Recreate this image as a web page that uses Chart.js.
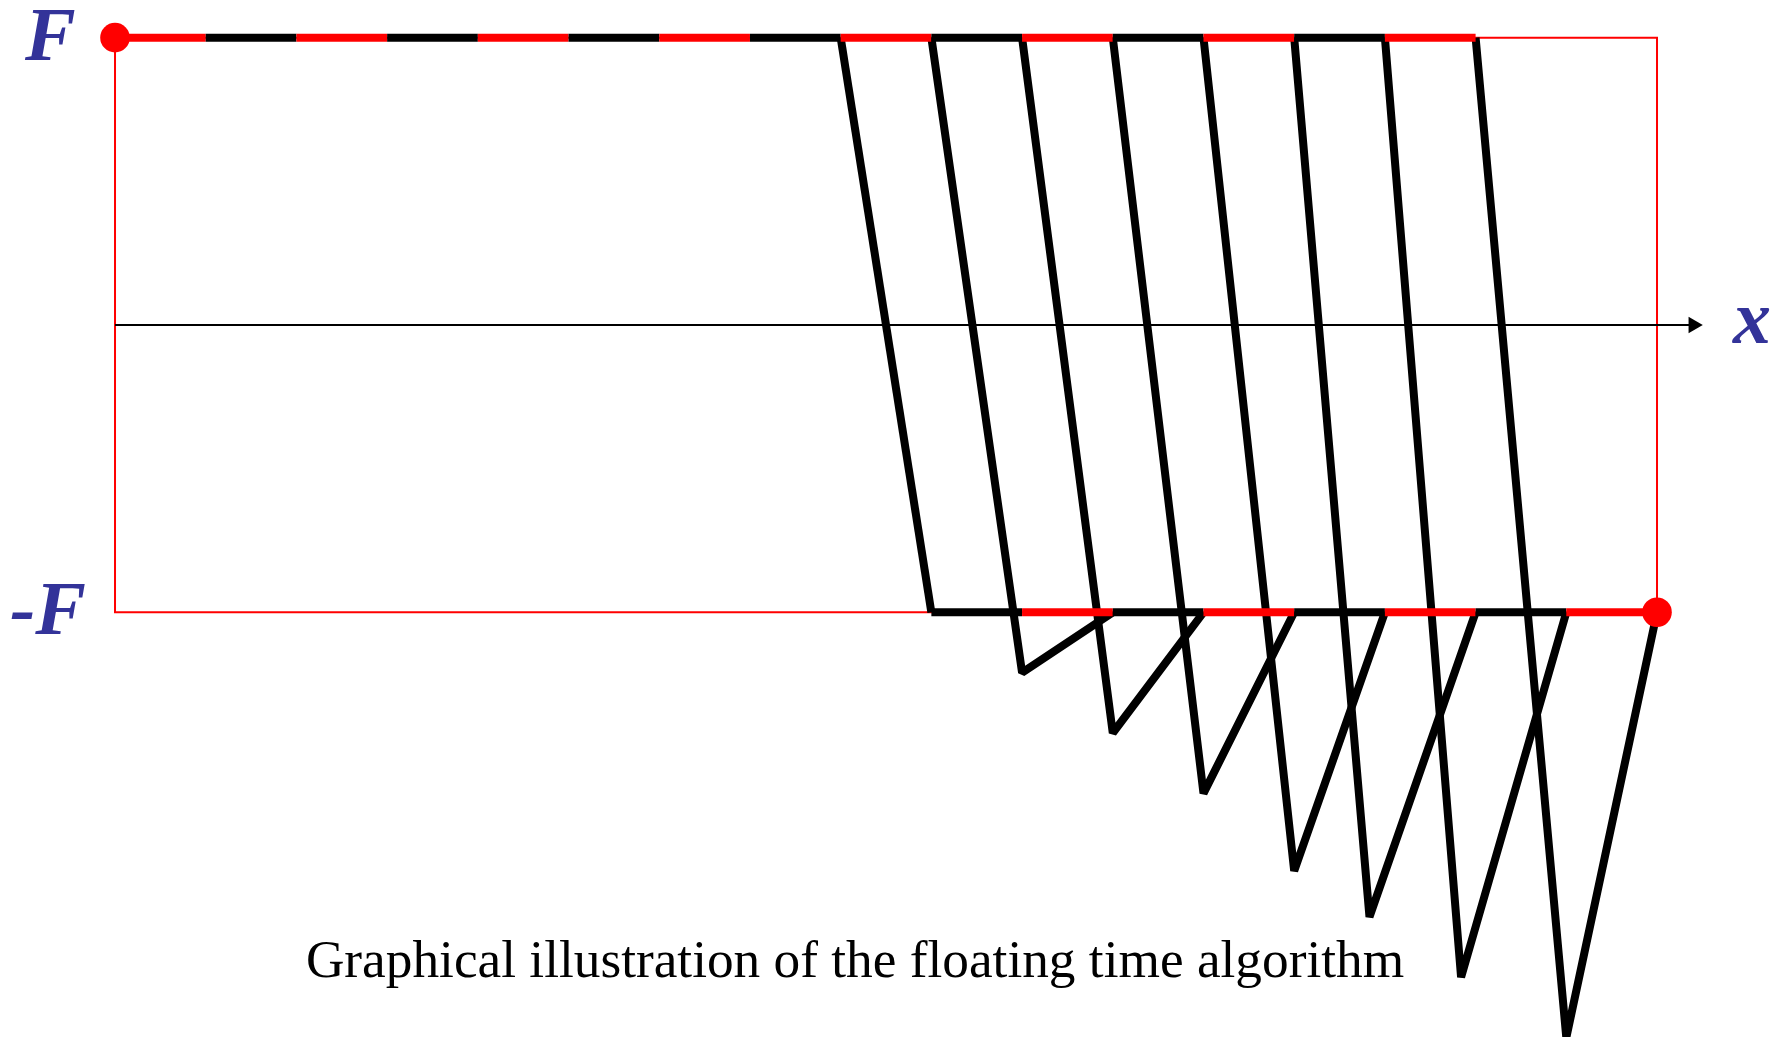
<!DOCTYPE html>
<html lang="en">
<head>
  <meta charset="UTF-8">
  <title>Floating time algorithm</title>
  <script src="https://cdn.jsdelivr.net/npm/chart.js"></script>
  <style>
    html, body { margin: 0; padding: 0; background: #fff; }
    #wrap { position: relative; width: 1784px; height: 1037px; overflow: hidden; }
    #chart { position: absolute; left: 0; top: 0; }
    .lbl { position: absolute; font-family: "Liberation Serif", "Times New Roman", serif; line-height: 1; white-space: nowrap; }
    .sym { font-weight: bold; font-style: italic; font-size: 76px; color: #333399; }
    #lbl-top { left: 25px; top: -4px; }
    #lbl-bottom { left: 10px; top: 570px; }
    #lbl-x { left: 1733px; top: 279px; }
    #caption { left: 855px; top: 933px; font-size: 53.3px; color: #000; transform: translateX(-50%); }
  </style>
</head>
<body>
  <div id="wrap">
    <canvas id="chart" width="1784" height="1037"></canvas>
    <div class="lbl sym" id="lbl-top">F</div>
    <div class="lbl sym" id="lbl-bottom">-F</div>
    <div class="lbl sym" id="lbl-x">x</div>
    <div class="lbl" id="caption">Graphical illustration of the floating time algorithm</div>
  </div>

  <script>
    // force levels (+F / -F) and time steps
    const forceTop = 1;
    const forceBottom = -1;
    const topSteps = [0, 1, 2, 3, 4, 5, 6, 7, 8, 9, 10, 11, 12, 13, 14, 15];
    const bottomSteps = [9, 10, 11, 12, 13, 14, 15, 16, 17];

    // each jump: leaves +F at dropStart, bottoms out at (dropX, dropY), climbs back to -F at riseEnd
    const dropStart = [8, 9, 10, 11, 12, 13, 14, 15];
    const dropX = [9, 10, 11, 12, 13, 13.83, 14.84, 16];
    const dropY = [-1, -1.21, -1.42, -1.63, -1.90, -2.06, -2.27, -2.48];
    const riseEnd = [9, 11, 12, 13, 14, 15, 16, 17];

    const frameX = [0, 17];
    const axisEnd = 17.4;

    const red = '#ff0000';
    const black = '#000000';
    const thick = 8;

    // alternate red / black for every unit step
    const stripe = ctx => (Math.round(ctx.p0.parsed.x) % 2 === 0 ? red : black);

    const jumps = dropStart.map((x0, i) => {
      const pts = [{ x: x0, y: forceTop }, { x: dropX[i], y: dropY[i] }];
      if (riseEnd[i] !== dropX[i]) pts.push({ x: riseEnd[i], y: forceBottom });
      return {
        data: pts,
        showLine: true,
        borderColor: black,
        borderWidth: thick,
        borderJoinStyle: 'bevel',
        pointRadius: 0,
        order: 2
      };
    });

    const datasets = [
      {
        // thin frame between +F and -F
        data: [
          { x: frameX[0], y: forceTop }, { x: frameX[1], y: forceTop },
          { x: frameX[1], y: forceBottom }, { x: frameX[0], y: forceBottom },
          { x: frameX[0], y: forceTop }
        ],
        showLine: true,
        borderColor: red,
        borderWidth: 2,
        pointRadius: 0,
        order: 4
      },
      {
        // x axis with arrow head
        data: [{ x: frameX[0], y: 0 }, { x: axisEnd, y: 0 }],
        showLine: true,
        borderColor: black,
        borderWidth: 2,
        pointRadius: [0, 9.5],
        pointStyle: 'triangle',
        rotation: 90,
        pointBackgroundColor: black,
        pointBorderWidth: 0,
        order: 3
      },
      ...jumps,
      {
        data: topSteps.map(x => ({ x, y: forceTop })),
        showLine: true,
        borderWidth: thick,
        borderColor: black,
        segment: { borderColor: stripe },
        pointRadius: 0,
        order: 1
      },
      {
        data: bottomSteps.map(x => ({ x, y: forceBottom })),
        showLine: true,
        borderWidth: thick,
        borderColor: black,
        segment: { borderColor: stripe },
        pointRadius: 0,
        order: 1
      },
      {
        // start and end points
        data: [{ x: topSteps[0], y: forceTop }, { x: bottomSteps[bottomSteps.length - 1], y: forceBottom }],
        showLine: false,
        pointRadius: 14.8,
        pointBackgroundColor: red,
        pointBorderWidth: 0,
        order: 0
      }
    ];

    new Chart(document.getElementById('chart'), {
      type: 'scatter',
      data: { datasets },
      options: {
        responsive: false,
        animation: false,
        events: [],
        layout: { padding: 0, autoPadding: false },
        plugins: { legend: { display: false }, tooltip: { enabled: false } },
        elements: { line: { tension: 0 } },
        scales: {
          x: { type: 'linear', display: false, min: -1.268, max: 18.40 },
          y: { type: 'linear', display: false, min: -2.478, max: 1.131 }
        }
      }
    });
  </script>
</body>
</html>
